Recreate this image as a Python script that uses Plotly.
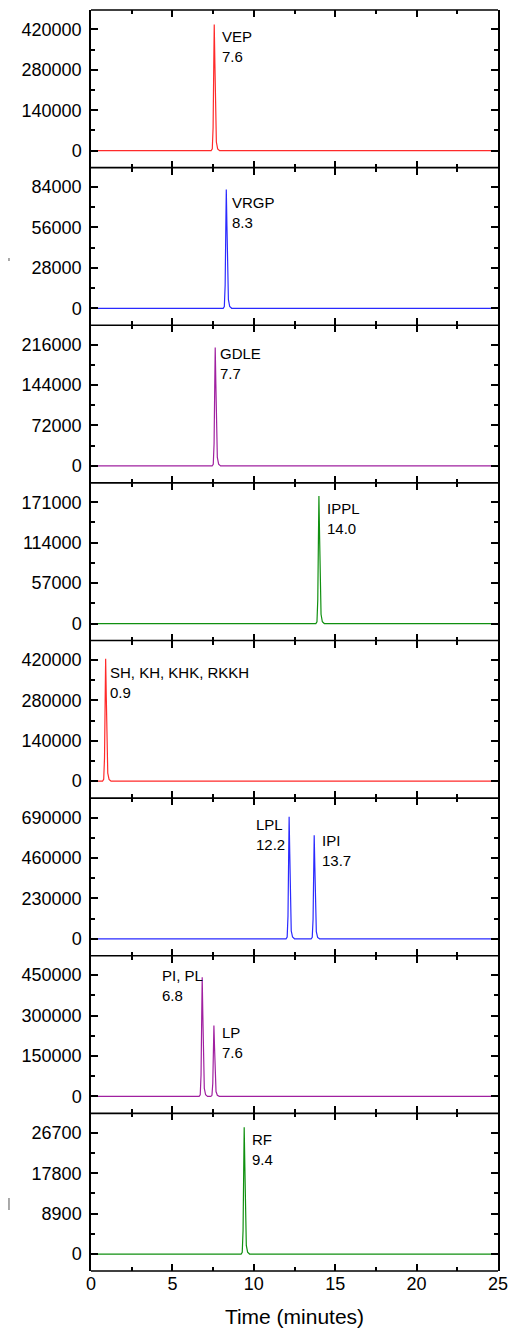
import plotly.graph_objects as go
from plotly.subplots import make_subplots

# ---------------- data ----------------
t_vep = [0, 7.38, 7.45, 7.50, 7.54, 7.57, 7.61, 7.65, 7.70, 7.78, 7.90, 25]
y_vep = [0, 0, 6000, 80000, 290000, 437000, 300000, 110000, 30000, 6000, 0, 0]

t_vrgp = [0, 8.12, 8.19, 8.24, 8.28, 8.31, 8.35, 8.39, 8.44, 8.52, 8.64, 25]
y_vrgp = [0, 0, 1200, 16000, 55000, 82300, 57000, 21000, 6000, 1200, 0, 0]

t_gdle = [0, 7.44, 7.51, 7.56, 7.60, 7.63, 7.67, 7.71, 7.76, 7.84, 7.96, 25]
y_gdle = [0, 0, 3000, 40000, 140000, 211000, 145000, 55000, 15000, 3000, 0, 0]

t_ippl = [0, 13.81, 13.88, 13.93, 13.97, 14.00, 14.04, 14.08, 14.13, 14.21, 14.33, 25]
y_ippl = [0, 0, 2500, 34000, 120000, 180000, 124000, 46000, 13000, 2500, 0, 0]

t_sh = [0, 0.71, 0.78, 0.83, 0.87, 0.90, 0.94, 0.98, 1.03, 1.11, 1.23, 25]
y_sh = [0, 0, 6000, 80000, 280000, 424000, 290000, 105000, 28000, 6000, 0, 0]

t_lpl_ipi = [0, 11.98, 12.05, 12.10, 12.14, 12.17, 12.21, 12.25, 12.30, 12.38, 12.50,
             13.52, 13.59, 13.64, 13.68, 13.71, 13.75, 13.79, 13.84, 13.92, 14.04, 25]
y_lpl_ipi = [0, 0, 10000, 130000, 460000, 695000, 480000, 175000, 45000, 10000, 0,
             0, 8000, 110000, 390000, 589000, 405000, 150000, 40000, 8000, 0, 0]

t_pi_lp = [0, 6.64, 6.71, 6.76, 6.80, 6.83, 6.87, 6.91, 6.96, 7.04, 7.16,
           7.36, 7.43, 7.48, 7.52, 7.55, 7.59, 7.63, 7.68, 7.76, 7.88, 25]
y_pi_lp = [0, 0, 6000, 80000, 290000, 442000, 300000, 110000, 30000, 6000, 0,
           0, 4000, 48000, 172000, 263000, 178000, 66000, 18000, 4000, 0, 0]

t_rf = [0, 9.22, 9.29, 9.34, 9.38, 9.41, 9.45, 9.49, 9.54, 9.62, 9.74, 25]
y_rf = [0, 0, 400, 5200, 18500, 27900, 19200, 7000, 1900, 400, 0, 0]

panel_times = [t_vep, t_vrgp, t_gdle, t_ippl, t_sh, t_lpl_ipi, t_pi_lp, t_rf]
panel_values = [y_vep, y_vrgp, y_gdle, y_ippl, y_sh, y_lpl_ipi, y_pi_lp, y_rf]
panel_colors = ["#ff2a2a", "#2a2aff", "#a020a0", "#109010",
                "#ff2a2a", "#2a2aff", "#a020a0", "#109010"]
tick_steps = [140000, 28000, 72000, 57000, 140000, 230000, 150000, 8900]

# peak labels: (panel index, text, x, y-domain, anchor)
peak_labels = [
    (0, "VEP<br>7.6", 7.90, 0.898, "left"),
    (1, "VRGP<br>8.3", 8.55, 0.847, "left"),
    (2, "GDLE<br>7.7", 7.80, 0.885, "left"),
    (3, "IPPL<br>14.0", 14.35, 0.905, "left"),
    (4, "SH, KH, KHK, RKKH<br>0.9", 1.07, 0.866, "left"),
    (5, "LPL<br>12.2", 12.03, 0.898, "right"),
    (5, "IPI<br>13.7", 14.05, 0.800, "left"),
    (6, "PI, PL<br>6.8", 6.99, 0.943, "right"),
    (6, "LP<br>7.6", 7.90, 0.580, "left"),
    (7, "RF<br>9.4", 9.76, 0.898, "left"),
]

x_range = [0, 25]
x_step = 5

# ---------------- figure ----------------
FONT = "Arial"
n = len(panel_times)
fig = make_subplots(rows=n, cols=1, vertical_spacing=0)

for i in range(n):
    fig.add_trace(go.Scatter(x=panel_times[i], y=panel_values[i], mode="lines",
                             line=dict(color=panel_colors[i], width=1.2),
                             showlegend=False, hoverinfo="skip"),
                  row=i + 1, col=1)
    step = tick_steps[i]
    fig.update_yaxes(row=i + 1, col=1,
                     range=[-0.42 * step, 3.48 * step],
                     tickmode="linear", tick0=0, dtick=step, tickformat="d",
                     ticks="inside", ticklen=7, tickwidth=1.5, tickcolor="black",
                     minor=dict(ticks="inside", tick0=0, dtick=step / 2, ticklen=4,
                                tickwidth=1.5, tickcolor="black"),
                     showline=True, linecolor="black", linewidth=1.5,
                     mirror="ticks", showgrid=False, zeroline=False, automargin=False,
                     tickfont=dict(family=FONT, size=18, color="black"),
                     ticklabelstandoff=4)
    fig.update_xaxes(row=i + 1, col=1,
                     range=x_range, tickmode="linear", tick0=0, dtick=x_step,
                     ticks="inside", ticklen=7, tickwidth=1.5, tickcolor="black",
                     minor=dict(ticks="inside", tick0=0, dtick=x_step / 2, ticklen=4,
                                tickwidth=1.5, tickcolor="black"),
                     showline=False, mirror="ticks", showgrid=False, zeroline=False,
                     automargin=False, showticklabels=(i == n - 1),
                     tickfont=dict(family=FONT, size=18, color="black"))

fig.update_xaxes(row=n, col=1, title=dict(text="Time (minutes)", standoff=16,
                                          font=dict(family=FONT, size=21, color="black")))

for (p, txt, x, yd, anc) in peak_labels:
    xr = "x" if p == 0 else f"x{p + 1}"
    yr = "y domain" if p == 0 else f"y{p + 1} domain"
    fig.add_annotation(x=x, y=yd, xref=xr, yref=yr, text=txt, showarrow=False,
                       xanchor=anc, yanchor="top", align="left",
                       font=dict(family=FONT, size=15, color="black"))

# one horizontal frame line at every panel boundary
for k in range(n + 1):
    fig.add_shape(type="line", xref="paper", yref="paper", x0=0, x1=1,
                  y0=k / n, y1=k / n, layer="above",
                  line=dict(color="black", width=1.6))

# faint leftover marks at far left
fig.add_shape(type="line", xref="paper", yref="paper", x0=-0.2015, x1=-0.2015,
              y0=(1271 - 258) / 1261, y1=(1271 - 261) / 1261,
              line=dict(color="#555555", width=1))
fig.add_shape(type="line", xref="paper", yref="paper", x0=-0.2015, x1=-0.2015,
              y0=(1271 - 1198) / 1261, y1=(1271 - 1210) / 1261,
              line=dict(color="#555555", width=1))

fig.update_layout(width=512, height=1336,
                  margin=dict(l=91, r=14, t=10, b=65),
                  paper_bgcolor="white", plot_bgcolor="white",
                  font=dict(family=FONT, color="black"))

fig.write_html("out.html")
